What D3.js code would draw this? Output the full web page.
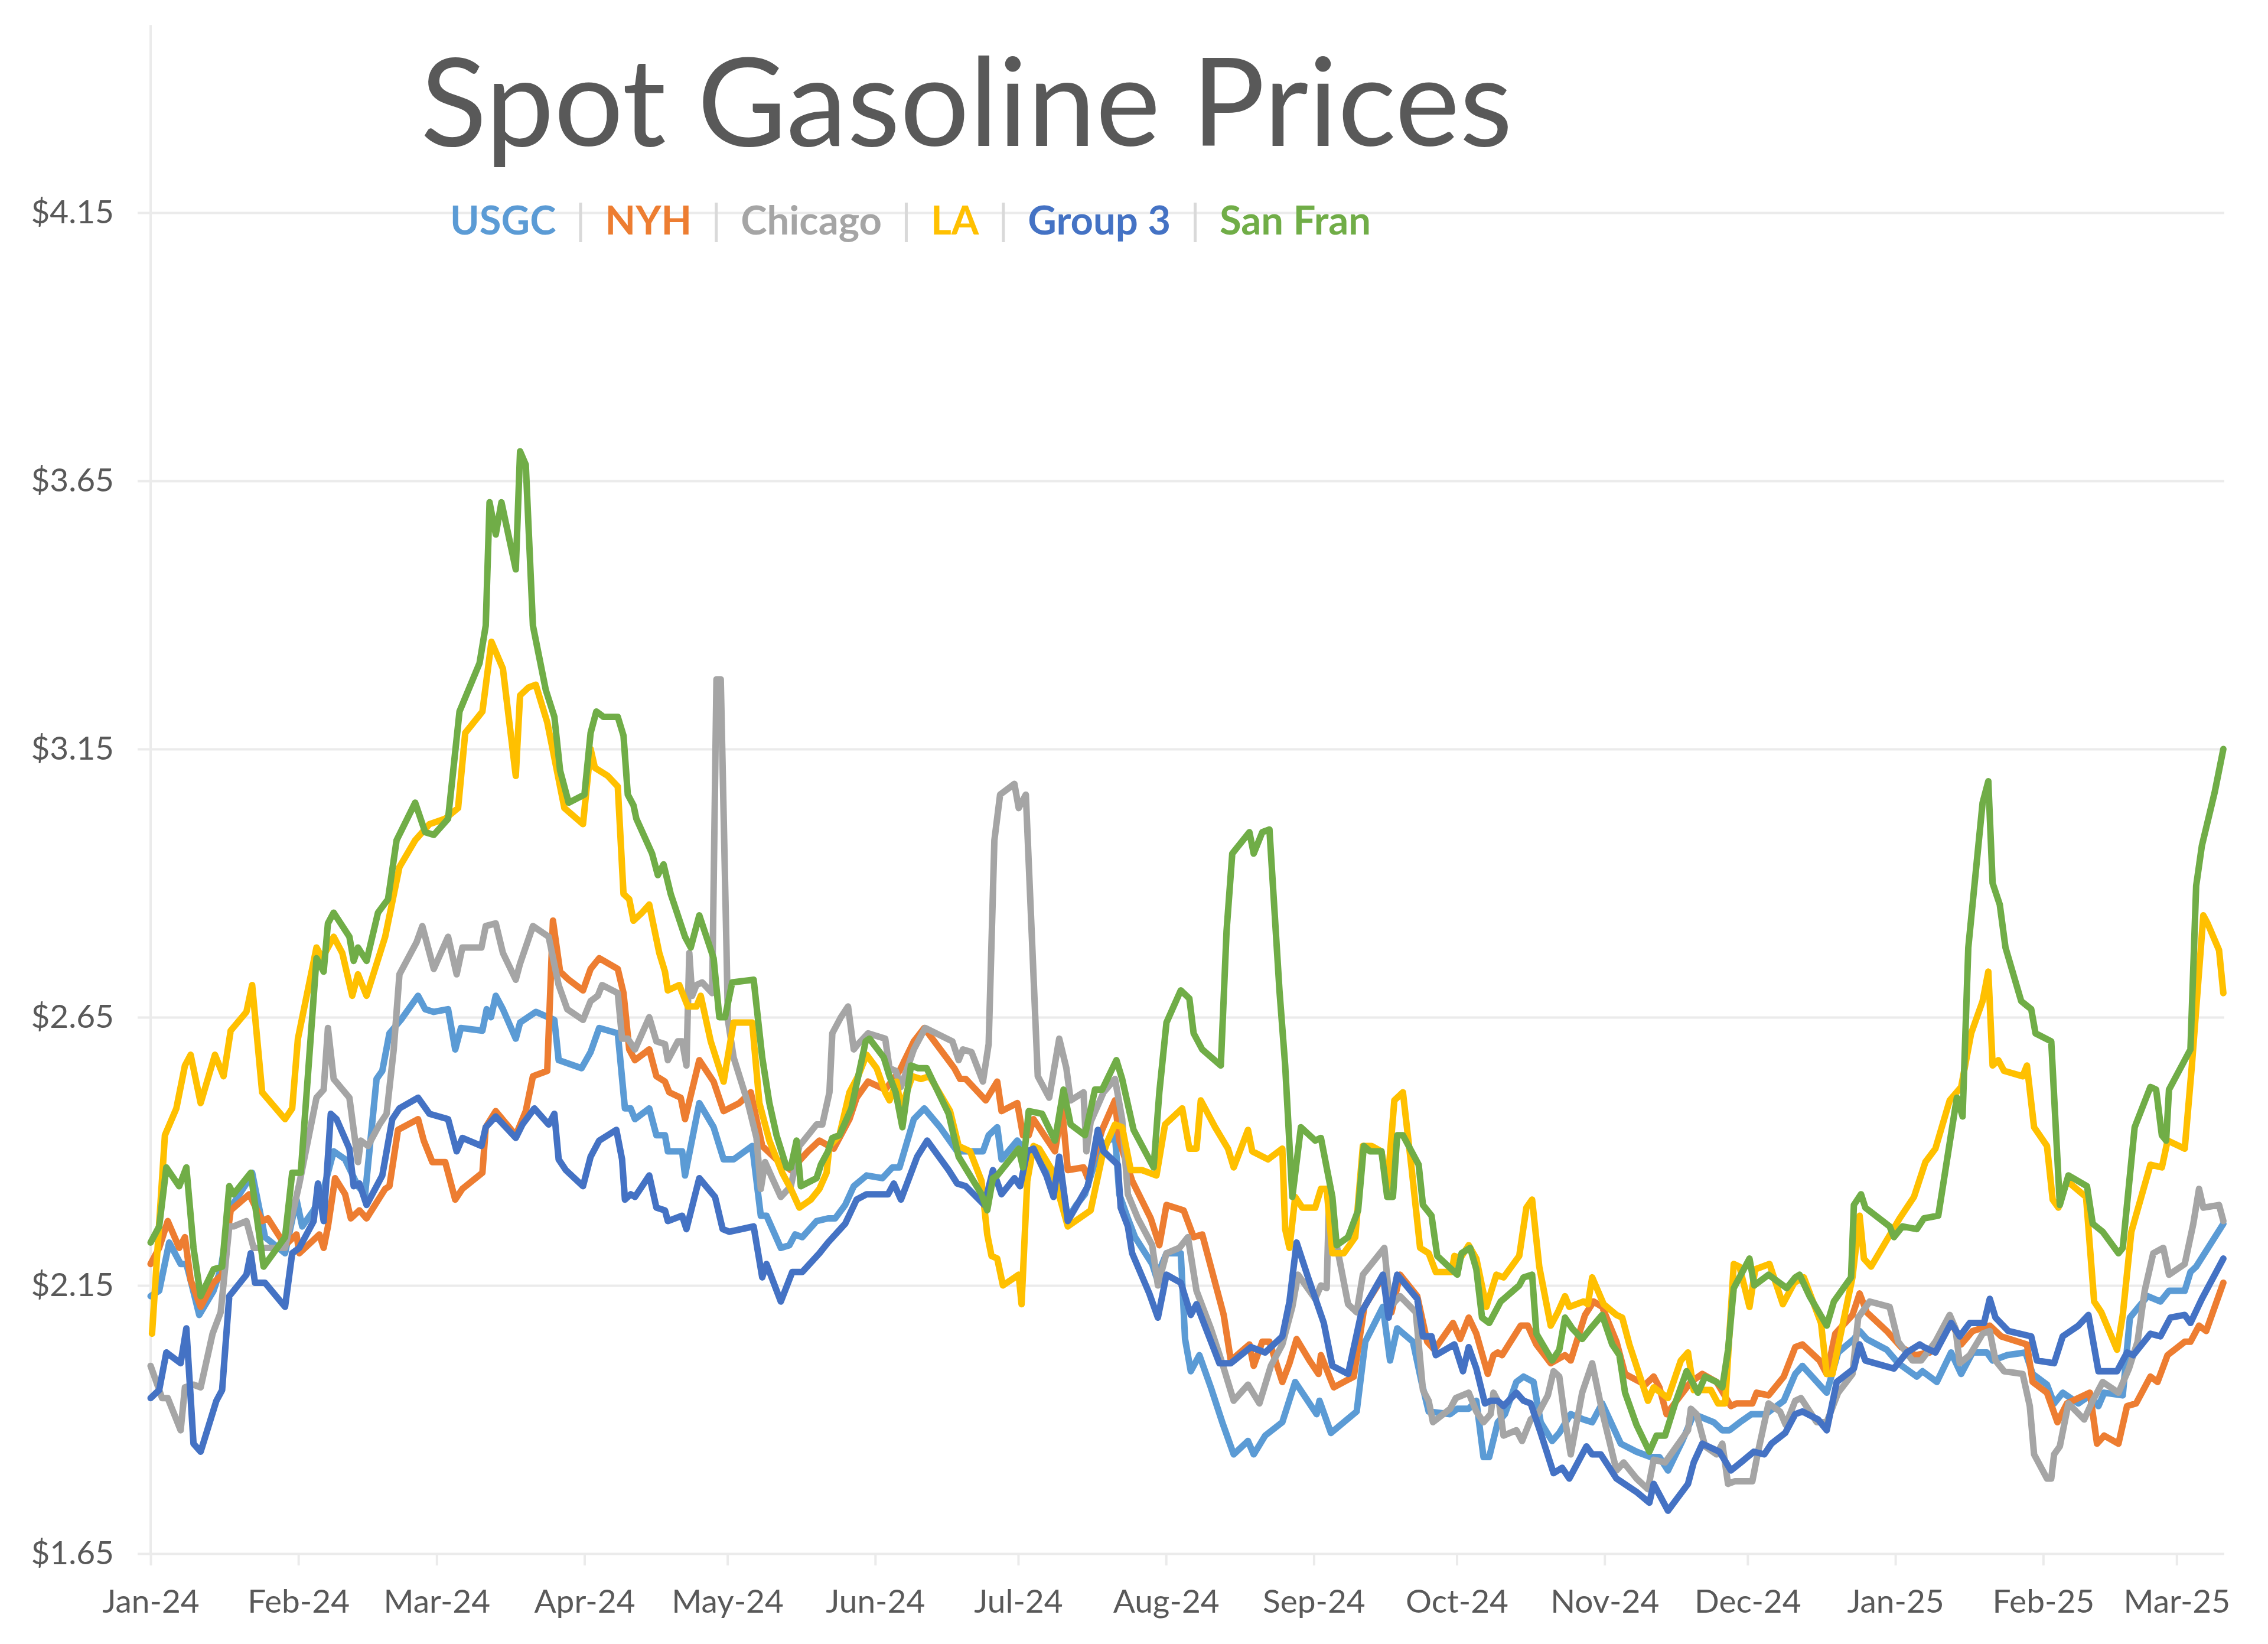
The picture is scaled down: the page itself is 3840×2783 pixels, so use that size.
<!DOCTYPE html>
<html>
<head>
<meta charset="utf-8">
<script src="https://cdn.jsdelivr.net/npm/d3@7"></script>
<style>
    body { margin: 0; background: #fff; }
    svg { display: block; }
    .tick text { font-family: Lato, "Open Sans", sans-serif; fill: #595959; }
</style>
</head>
<body>
<svg id="gfx"></svg>
<script>
// days counted from 1 Jan 2024, price in $/gal
const startDate = Date.UTC(2024, 0, 1);
const lastDay = 435;

const seriesNames = ["USGC", "NYH", "Chicago", "LA", "Group 3", "San Fran"];
const seriesColors = ["#5B9BD5", "#ED7D31", "#A5A5A5", "#FFC000", "#4472C4", "#70AD47"];

const yTickValues = [1.65, 2.15, 2.65, 3.15, 3.65, 4.15];
const xTickLabels = ["Jan-24", "Feb-24", "Mar-24", "Apr-24", "May-24", "Jun-24", "Jul-24", "Aug-24",
    "Sep-24", "Oct-24", "Nov-24", "Dec-24", "Jan-25", "Feb-25", "Mar-25"];

const usgcData = [[0,2.13],[1.8,2.14],[3.9,2.23],[6.3,2.19],[7.5,2.19],[8.1,2.17],[10.2,2.095],[13.2,2.14],[14.7,2.18],[16.8,2.295],[20.1,2.34],[21.3,2.36],[24,2.24],[28.2,2.21],[30.6,2.31],[31.8,2.26],[34.2,2.29],[36.3,2.33],[38.4,2.40],[40.8,2.385],[43.5,2.335],[45,2.32],[47.4,2.535],[48.6,2.55],[50.1,2.62],[52.5,2.645],[56.1,2.69],[57.6,2.665],[59.4,2.66],[62.4,2.665],[63.9,2.59],[65.1,2.63],[69.6,2.625],[70.5,2.665],[71.4,2.65],[72.4,2.69],[73.9,2.665],[76.6,2.61],[77.5,2.64],[80.8,2.66],[84.7,2.645],[85.6,2.57],[90.4,2.555],
    [92.3,2.585],[94.1,2.63],[98,2.62],[99.5,2.48],[100.7,2.48],[101.6,2.46],[104.6,2.48],[106.1,2.43],[107.9,2.43],[108.5,2.40],[111.5,2.40],[112.1,2.355],[115.1,2.49],[118.1,2.445],[120.2,2.385],[122.3,2.385],[126.2,2.41],[128,2.28],[129.2,2.28],[132.2,2.22],[134,2.225],[135.2,2.245],[136.7,2.24],[139.7,2.27],[142.1,2.275],[143.6,2.275],[145.7,2.30],[147.5,2.335],[150.2,2.355],[153.5,2.35],[155.6,2.37],[157.1,2.37],[160.1,2.46],[162.3,2.48],[165.6,2.445],[169.2,2.40],[174.6,2.40],[175.8,2.43],[177.6,2.445],[178.5,2.385],[181.8,2.42],[183.6,2.40],
    [185.2,2.40],[187.6,2.37],[189.4,2.33],[190.6,2.375],[192.4,2.275],[194.2,2.30],[196,2.32],[199,2.405],[202.3,2.43],[203.2,2.32],[205,2.275],[206.5,2.24],[210.1,2.19],[211,2.165],[213.1,2.21],[216.1,2.21],[217,2.05],[218.2,1.99],[220,2.02],[222.4,1.96],[224.8,1.895],[227.2,1.835],[230.2,1.86],[231.4,1.835],[233.8,1.87],[237.4,1.895],[240.1,1.97],[244.6,1.91],[245.2,1.935],[247.6,1.875],[253,1.915],[254.8,2.045],[258.5,2.11],[260,2.01],[261.5,2.07],[264.8,2.045],[266.6,1.97],[268.1,1.915],[272.6,1.91],[274.1,1.92],[276.5,1.92],
    [278.1,1.935],[279.6,1.83],[280.8,1.83],[282.6,1.895],[284.1,1.91],[286.5,1.97],[288,1.98],[290.1,1.97],[291.6,1.895],[294,1.86],[295.5,1.875],[297.9,1.91],[300.6,1.90],[302.4,1.895],[304.5,1.93],[308.4,1.855],[311.7,1.84],[314.7,1.83],[316.5,1.83],[318.3,1.805],[321.3,1.86],[323.7,1.91],[327.9,1.895],[329.7,1.88],[331.2,1.88],[333.4,1.895],[335.8,1.91],[338.8,1.91],[342.6,1.935],
    [345,1.985],[346.5,2.00],[351.6,1.95],[354,2.025],[357.3,2.05],[358.5,2.065],[360,2.05],[364.2,2.03],[366.6,2.005],[370.5,1.98],[371.7,1.99],[374.7,1.97],[377.7,2.025],[379.8,1.985],[382.2,2.025],[385.2,2.025],[386.4,2.01],[389.4,2.02],[393.3,2.025],[394.8,1.985],[397.8,1.965],[399.3,1.93],[401.1,1.95],[404.4,1.93],[406.8,1.945],[408.6,1.925],[409.8,1.95],[413.7,1.945],[415.2,2.09],[418.9,2.13],[421.6,2.12],[423.4,2.14],[426.7,2.14],[427.9,2.175],[429.1,2.185],[434.8,2.265]];

const nyhData = [[0,2.19],[1.8,2.22],[3.6,2.27],[6,2.22],[7.2,2.24],[8.4,2.16],[10.5,2.11],[13.2,2.155],[15,2.17],[16.8,2.29],[20.7,2.32],[23.4,2.27],[24.6,2.275],[28.2,2.225],[30.6,2.245],[31.2,2.21],[35.4,2.245],[36.3,2.22],[37.2,2.26],[38.7,2.35],[40.8,2.32],[42,2.275],[43.8,2.29],[45.3,2.275],[49.2,2.33],[50.1,2.335],[51.9,2.44],[56.1,2.46],[57.3,2.42],[59.1,2.38],[61.8,2.38],[63.9,2.31],[65.4,2.33],[69.6,2.36],[70.3,2.445],[72.4,2.475],[76.6,2.43],[78.7,2.475],[80.2,2.54],[83.2,2.55],[84.4,2.83],[85.9,2.735],[87.7,2.72],[90.7,2.70],
    [92.3,2.74],[94.1,2.76],[98,2.74],[99.2,2.695],[100.4,2.59],[101.6,2.57],[104.6,2.59],[106.1,2.54],[107.9,2.53],[108.8,2.51],[111.2,2.50],[112.1,2.46],[115.1,2.57],[118.1,2.53],[120.2,2.475],[123.5,2.49],[125.9,2.51],[128.3,2.41],[131.3,2.385],[134.3,2.365],[137.9,2.40],[140.3,2.42],[143.3,2.405],[146.6,2.46],[148.1,2.50],[150.5,2.53],[154.1,2.515],[157.1,2.55],[160.1,2.605],[162.3,2.63],[168.6,2.555],[169.8,2.535],[171,2.535],[175.2,2.495],[177.6,2.53],[178.5,2.475],[181.8,2.49],[183,2.43],[184.2,2.43],
    [185.2,2.46],[188.2,2.42],[189.7,2.40],[191.2,2.48],[192.4,2.365],[195.7,2.37],[196.6,2.35],[199.6,2.44],[202.3,2.495],[203.2,2.42],[205.9,2.345],[209.8,2.275],[211.6,2.225],[213.1,2.30],[216.7,2.29],[218.8,2.24],[220.6,2.245],[225.1,2.095],[226.6,2.01],[230.5,2.04],[231.4,2.00],[233.2,2.045],[234.7,2.045],[237.4,1.97],[238.9,2.005],[240.4,2.05],[243.1,2.01],[245,1.985],[245.5,2.02],[248.2,1.96],[252.4,1.98],[254.6,2.11],[258.8,2.17],[260.3,2.10],[262.1,2.17],[265.7,2.13],[267.8,2.045],[269.3,2.03],[273.2,2.08],[274.7,2.05],[276.5,2.09],
    [278.1,2.06],[280.5,1.985],[281.7,2.02],[282.6,2.025],[283.5,2.02],[287.4,2.075],[288.9,2.075],[290.7,2.04],[293.7,2.005],[296.7,2.02],[297.9,2.01],[300.9,2.095],[302.7,2.12],[304.5,2.11],[307.5,2.045],[309.3,1.985],[313.5,1.965],[315.3,1.98],[316.5,1.96],[318,1.91],[320.1,1.935],[323.1,1.97],[325.5,1.985],[328.5,1.97],[331.5,1.925],[332.7,1.93],[336,1.93],[336.9,1.95],[339.4,1.945],[342.6,1.98],
    [345,2.035],[346.5,2.04],[350.1,2.01],[351.6,1.985],[353.4,2.06],[357,2.095],[358.5,2.135],[360,2.10],[364.2,2.065],[367.2,2.035],[370.2,2.02],[373.2,2.025],[377.4,2.09],[379.8,2.04],[382.2,2.065],[385.8,2.075],[388.2,2.055],[393.6,2.04],[394.8,1.97],[397.8,1.95],[400,1.895],[402,1.93],[406.8,1.95],[408.3,1.855],[409.8,1.87],[412.8,1.855],[414.6,1.925],[416.5,1.93],[419.5,1.98],[421,1.97],[423.1,2.02],[426.7,2.045],[427.9,2.045],[429.7,2.075],[431.2,2.065],[434.8,2.155]];

const chicagoData = [[0,2.00],[2.4,1.94],[3.6,1.94],[6.3,1.88],[7.2,1.96],[9,1.965],[10.5,1.96],[13,2.06],[14.7,2.10],[16.5,2.26],[17.4,2.26],[20.1,2.27],[21.6,2.22],[24.6,2.22],[28.2,2.22],[31.2,2.34],[34.8,2.50],[36.3,2.515],[37.2,2.63],[38.4,2.535],[41.7,2.50],[43.5,2.38],[44.1,2.42],[45.6,2.41],[48,2.45],[49.5,2.47],[51,2.59],[52.2,2.73],[55.8,2.79],[57,2.82],[59.4,2.74],[62.4,2.80],[64.2,2.73],[65.4,2.78],[69.4,2.78],[70.3,2.82],[72.4,2.825],[73.9,2.77],[76.6,2.72],[77.5,2.75],[80.2,2.82],[83.5,2.80],[85.6,2.71],[87.4,2.665],[90.7,2.645],
    [92.3,2.68],[93.8,2.69],[94.7,2.71],[98,2.695],[98.9,2.61],[100.1,2.61],[101.6,2.59],[104.6,2.65],[106.1,2.605],[107.9,2.60],[108.5,2.57],[110.6,2.605],[111.5,2.605],[112.4,2.56],[113,2.77],[113.6,2.69],[114.5,2.71],[115.7,2.715],[117.8,2.695],[118.7,3.28],[119.6,3.28],[120.8,2.78],[121.1,2.645],[122.3,2.575],[125.3,2.49],[127.1,2.425],[128,2.33],[128.9,2.38],[130.4,2.35],[132.2,2.315],[134.3,2.335],[136.1,2.41],[139.7,2.45],[140.9,2.45],[142.4,2.51],[143,2.62],[144.8,2.65],[146.3,2.67],[147.5,2.59],[148.4,2.60],[150.5,2.62],[154.1,2.61],[155,2.555],[156.3,2.55],[157.4,2.52],[160.1,2.59],[162.5,2.63],[168.2,2.605],[169.5,2.57],[170.4,2.59],[172.2,2.585],[174.6,2.53],[175.8,2.60],[177,2.98],[178.2,3.065],[181.2,3.085],[182.1,3.04],[183.6,3.065],
    [186.1,2.54],[188.5,2.50],[190.6,2.61],[192.1,2.555],[193,2.495],[195.7,2.51],[196.3,2.40],[197.2,2.455],[199.9,2.51],[202.3,2.535],[203.8,2.46],[205,2.32],[207.1,2.275],[210.1,2.225],[211.3,2.15],[213.1,2.21],[215.8,2.22],[217.6,2.24],[219.4,2.14],[222.4,2.07],[224.8,2.005],[227.2,1.935],[230.2,1.965],[232.6,1.93],[235,2.00],[237.4,2.04],[239.5,2.11],[240.7,2.17],[244.3,2.125],[245.5,2.15],[246.7,2.145],[247.2,2.31],[248.8,2.225],[251.2,2.115],[253,2.10],[254.3,2.17],[258.8,2.22],[260,2.11],[262.1,2.13],[265.4,2.10],[266.9,1.955],[268.1,1.935],[269,1.895],[272.6,1.92],[273.8,1.94],[276.5,1.95],
    [278.1,1.915],[279.6,1.895],[281.1,1.91],[281.7,1.95],[282.9,1.93],[283.8,1.87],[286.5,1.88],[287.7,1.86],[289.5,1.90],[291,1.91],[293.1,1.945],[294.3,1.99],[295.5,1.98],[296.7,1.90],[297.9,1.835],[300.3,1.95],[302.4,2.005],[304.5,1.915],[307.5,1.805],[309,1.82],[311.7,1.79],[314.1,1.77],[315.3,1.825],[317.7,1.82],[320.1,1.85],[322.5,1.88],[323.1,1.92],[324.3,1.91],[326.1,1.85],[328.5,1.835],[329.7,1.855],[330.9,1.78],[332.4,1.785],[336,1.785],[337.2,1.84],[339.4,1.93],[341.8,1.915],[343,1.89],
    [345,1.935],[346.2,1.94],[349.5,1.895],[351.6,1.895],[354,1.95],[357,1.985],[358.2,2.09],[360.6,2.12],[364.8,2.11],[366.6,2.045],[369.6,2.01],[371.4,2.01],[374.4,2.045],[377.4,2.095],[378.6,2.07],[379.5,2.005],[381.6,2.02],[384.3,2.06],[385.8,2.065],[387,2.01],[388.8,1.99],[392.7,1.985],[394.2,1.925],[395.1,1.835],[397.8,1.79],[398.7,1.79],[399.3,1.835],[400.5,1.85],[402.3,1.93],[405.6,1.90],[407.4,1.935],[409.5,1.97],[412.8,1.95],[415,1.995],[416.8,2.045],[418.3,2.14],[420.1,2.21],[422.2,2.22],[423.4,2.17],[426.7,2.19],[428.5,2.265],[429.7,2.33],[430.6,2.295],[433.9,2.30],[434.8,2.27]];

const laData = [[0.3,2.06],[3,2.43],[5.4,2.48],[7.2,2.56],[8.4,2.58],[10.5,2.49],[13.5,2.58],[15.3,2.54],[16.8,2.625],[20.1,2.66],[21.3,2.71],[23.4,2.51],[28.2,2.46],[29.7,2.48],[30.9,2.61],[34.8,2.78],[36,2.76],[38.4,2.80],[40.2,2.77],[42.3,2.69],[43.5,2.73],[45.3,2.69],[49.2,2.80],[52.2,2.93],[55.5,2.98],[58.5,3.01],[61.8,3.02],[64.5,3.04],[66,3.18],[69.6,3.22],[71.5,3.35],[73.9,3.30],[76.6,3.10],[77.5,3.25],[79.3,3.265],[80.8,3.27],[83.2,3.20],[86.8,3.04],[90.7,3.01],
    [92.3,3.15],[93.2,3.115],[95.9,3.10],[98,3.08],[99.2,2.88],[100.4,2.87],[101.3,2.83],[103.1,2.845],[104.6,2.86],[106.7,2.77],[107.9,2.735],[108.5,2.70],[110.9,2.71],[112.7,2.67],[114.5,2.67],[115.4,2.69],[117.5,2.605],[120.2,2.53],[122.3,2.64],[126.2,2.64],[127.7,2.49],[129.8,2.42],[132.5,2.36],[134.3,2.33],[136.1,2.295],[138.5,2.31],[140.3,2.33],[141.8,2.36],[142.4,2.41],[144.5,2.43],[146.6,2.51],[148.4,2.54],[150.2,2.58],[152.3,2.555],[154.1,2.51],[155,2.495],[156.5,2.53],[157.4,2.48],[159.8,2.54],[161.6,2.535],[163.4,2.54],[167.7,2.475],[169.5,2.41],[171.9,2.40],[174.3,2.345],[175.5,2.245],[176.4,2.205],[177.6,2.20],[178.8,2.15],[182.1,2.17],[182.7,2.115],[183.9,2.345],
    [185.2,2.41],[186.4,2.405],[189.1,2.365],[192.4,2.26],[194.8,2.275],[197.2,2.29],[199.6,2.39],[200.8,2.42],[202.3,2.45],[203.8,2.445],[205.6,2.365],[208,2.365],[211,2.355],[212.8,2.45],[216.4,2.48],[217.9,2.405],[219.4,2.405],[220.3,2.495],[223.3,2.445],[226,2.405],[227.2,2.37],[230.2,2.44],[231.1,2.40],[234.4,2.385],[237.4,2.405],[238,2.255],[238.9,2.22],[240.1,2.315],[241.6,2.295],[244.3,2.295],[245.5,2.33],[246.7,2.33],[247.9,2.21],[250.3,2.21],[252.7,2.24],[254.3,2.41],[256.1,2.41],[258.2,2.40],[259.4,2.33],[260.9,2.495],[262.7,2.51],[264.5,2.37],[266.3,2.22],[268.1,2.21],[269.6,2.175],[272.9,2.175],[273.5,2.205],[274.7,2.20],[276.5,2.225],
    [278.1,2.20],[280.2,2.11],[282.3,2.17],[283.8,2.165],[287.1,2.205],[288.6,2.295],[289.8,2.31],[291.3,2.185],[293.7,2.075],[295.2,2.10],[296.7,2.13],[297.6,2.11],[300.6,2.12],[301.5,2.115],[302.4,2.165],[304.8,2.115],[307.5,2.095],[308.7,2.09],[310.2,2.04],[314.1,1.935],[315.3,1.96],[318.3,1.94],[321,2.01],[322.5,2.025],[323.7,1.955],[327.3,1.955],[328.8,1.93],[330.3,1.93],[332.1,2.19],[333.3,2.185],[335.4,2.11],[336.6,2.18],[339.6,2.19],[342.4,2.115],[344.8,2.155],
    [346.8,2.165],[350.4,2.08],[351.6,1.985],[352.8,1.985],[357,2.165],[358.5,2.28],[359.4,2.20],[360.9,2.185],[366.9,2.275],[369.9,2.315],[372.3,2.38],[374.4,2.405],[377.4,2.495],[379.8,2.52],[381.9,2.62],[384.3,2.68],[385.5,2.735],[386.4,2.56],[387.6,2.57],[388.8,2.55],[392.7,2.54],[393.6,2.56],[395.1,2.445],[397.8,2.41],[399,2.31],[400.2,2.295],[402,2.345],[406,2.315],[407.7,2.12],[409.2,2.10],[412.5,2.03],[413.7,2.095],[415.5,2.25],[419.5,2.375],[421.9,2.37],[423.1,2.42],[426.7,2.405],[428.2,2.56],[430.6,2.84],[431.5,2.825],[433.9,2.775],[434.8,2.695]];

const group3Data = [[0,1.94],[1.8,1.955],[3.3,2.025],[6.3,2.005],[7.5,2.07],[9,1.855],[10.5,1.84],[13.8,1.935],[15,1.955],[16.5,2.13],[17.4,2.14],[20.1,2.17],[21,2.21],[21.9,2.155],[24,2.155],[28.2,2.11],[29.7,2.21],[31.2,2.22],[34.2,2.27],[35.1,2.34],[36.3,2.27],[37.8,2.47],[39,2.46],[41.7,2.405],[42.6,2.335],[43.8,2.34],[45.3,2.30],[48.6,2.355],[50.7,2.46],[52.2,2.48],[56.1,2.50],[58.5,2.47],[62.4,2.46],[64.2,2.40],[65.4,2.425],[69.4,2.41],[70.3,2.445],[72.4,2.465],[76.6,2.425],[78,2.45],[80.5,2.48],[83.5,2.45],[84.7,2.47],[85.6,2.385],[87.1,2.365],[90.7,2.335],
    [92.3,2.39],[94.1,2.42],[97.7,2.44],[98.9,2.385],[99.5,2.31],[100.7,2.32],[101.6,2.315],[104.6,2.355],[106.1,2.295],[107.9,2.29],[108.5,2.27],[111.5,2.28],[112.4,2.255],[115.1,2.35],[118.4,2.315],[120,2.255],[121.4,2.25],[126.5,2.26],[128.3,2.165],[129.2,2.19],[132.2,2.12],[134.6,2.175],[136.7,2.175],[140.3,2.21],[142.1,2.23],[145.7,2.265],[148.1,2.31],[150.2,2.32],[154.7,2.32],[155.9,2.34],[157.4,2.31],[160.8,2.39],[162.9,2.42],[167.4,2.365],[169.2,2.34],[171,2.335],[174.9,2.30],[176.7,2.365],[178.5,2.32],[181.2,2.35],[182.4,2.335],[183.9,2.40],
    [185.2,2.405],[187.9,2.355],[189.4,2.315],[190.6,2.39],[192.4,2.27],[196.6,2.335],[198.7,2.44],[199.9,2.40],[202.9,2.375],[203.5,2.295],[205,2.26],[205.9,2.21],[209.5,2.135],[211.3,2.09],[213.1,2.17],[216.1,2.155],[218.2,2.095],[219.4,2.115],[224.2,2.005],[226.6,2.005],[230.8,2.035],[233.8,2.025],[237.4,2.055],[238.9,2.12],[240.4,2.23],[242.8,2.165],[246.1,2.08],[247.9,2.00],[251.2,1.985],[254,2.10],[258.5,2.17],[259.7,2.09],[261.5,2.17],[265.7,2.125],[266.9,2.055],[268.7,2.055],[269.6,2.02],[273.5,2.04],[275.3,1.99],[276.5,2.035],
    [278.1,1.995],[279.9,1.93],[281.1,1.935],[282.6,1.935],[283.8,1.925],[286.5,1.95],[288,1.935],[289.5,1.93],[291.6,1.875],[294.3,1.80],[296.1,1.81],[297.6,1.79],[301.2,1.85],[302.4,1.835],[304.2,1.835],[307.5,1.79],[311.7,1.765],[314.4,1.745],[315.3,1.78],[318.3,1.73],[322.5,1.78],[323.7,1.82],[325.5,1.855],[329.1,1.84],[331.5,1.805],[333.6,1.82],[336.3,1.84],[338.5,1.835],[340,1.855],[342.9,1.875],
    [345,1.91],[346.5,1.915],[349.8,1.90],[351.6,1.88],[353.7,1.97],[357.3,1.995],[358.5,2.04],[359.7,2.01],[365.7,1.995],[368.4,2.025],[371.1,2.04],[372,2.035],[374.4,2.025],[377.7,2.08],[379.5,2.055],[381.6,2.08],[384.6,2.08],[385.8,2.125],[387,2.09],[389.7,2.065],[394.5,2.055],[395.7,2.01],[399.3,2.005],[401.1,2.055],[404.4,2.075],[406.5,2.095],[408.6,1.99],[412.5,1.99],[414.6,2.025],[415.9,2.02],[419.5,2.06],[421.6,2.055],[423.7,2.09],[426.7,2.095],[427.9,2.08],[430.3,2.125],[434.8,2.20]];

const sanFranData = [[0,2.23],[1.8,2.26],[3.3,2.37],[6,2.335],[7.5,2.37],[9,2.22],[10.5,2.13],[13.2,2.18],[15,2.185],[16.5,2.335],[17.4,2.32],[21,2.36],[23.7,2.185],[28.2,2.24],[29.7,2.36],[31.5,2.36],[34.8,2.76],[36.3,2.735],[37.2,2.825],[38.4,2.845],[41.7,2.80],[42.6,2.755],[43.5,2.78],[45.3,2.755],[47.7,2.845],[49.8,2.87],[51.6,2.98],[55.5,3.05],[57.6,2.995],[59.4,2.99],[62.4,3.02],[64.8,3.22],[69,3.31],[70.3,3.38],[71.1,3.61],[72.4,3.55],[73.6,3.61],[76.6,3.485],[77.5,3.705],[78.7,3.68],[80.2,3.38],[82.9,3.26],[84.7,3.21],[85.9,3.11],[87.7,3.05],[91,3.065],
    [92.3,3.18],[93.5,3.22],[95,3.21],[98,3.21],[99.2,3.175],[100.1,3.065],[101.3,3.045],[101.9,3.02],[105.2,2.955],[106.4,2.915],[107.6,2.935],[109.1,2.88],[112.1,2.80],[113.3,2.78],[115.1,2.84],[118.1,2.76],[119.3,2.65],[120.5,2.65],[122,2.715],[126.5,2.72],[128.3,2.575],[129.8,2.49],[131.3,2.43],[133.4,2.37],[134.3,2.37],[135.5,2.42],[136.4,2.335],[139.7,2.35],[140.6,2.375],[142.1,2.40],[143,2.425],[144.5,2.43],[147,2.48],[150,2.605],[150.8,2.61],[153.8,2.575],[155,2.54],[156.3,2.51],[157.7,2.445],[159.5,2.56],[161,2.555],[162.8,2.555],[167.4,2.47],[169.5,2.39],[171.9,2.355],[174.3,2.32],[175.5,2.29],[176.7,2.35],[177.6,2.355],[182.1,2.405],[183,2.37],[184.2,2.475],
    [187,2.47],[189.7,2.42],[191.5,2.515],[193,2.45],[196,2.43],[198.1,2.515],[199.6,2.515],[202.6,2.57],[203.8,2.535],[206.2,2.44],[210.4,2.37],[211.6,2.51],[213.1,2.64],[216.1,2.70],[217.9,2.685],[218.8,2.62],[220.6,2.59],[224.5,2.56],[225.7,2.81],[226.9,2.955],[230.5,2.995],[231.4,2.955],[233.2,2.995],[234.7,3.00],[236.8,2.70],[238,2.56],[239.5,2.315],[241.3,2.445],[244.3,2.42],[245.5,2.425],[247.9,2.315],[248.8,2.225],[251.2,2.24],[253.3,2.29],[254.5,2.41],[255.8,2.40],[258.2,2.40],[259.4,2.315],[260.6,2.315],[261.5,2.43],[262.7,2.43],[266,2.375],[266.9,2.30],[268.7,2.28],[269.9,2.205],[274.1,2.17],[275,2.21],[276.8,2.22],
    [278.1,2.18],[279.3,2.09],[280.8,2.08],[283.2,2.12],[287.1,2.15],[288,2.165],[289.8,2.17],[290.7,2.06],[294,2.01],[295.5,2.03],[296.7,2.09],[298.2,2.07],[300.3,2.05],[302.1,2.07],[304.5,2.095],[306.6,2.04],[308.1,2.02],[309.3,1.95],[311.7,1.89],[314.4,1.84],[315.9,1.87],[317.7,1.87],[319.8,1.93],[322.2,1.99],[324.6,1.95],[326.1,1.98],[328.5,1.97],[329.7,1.96],[330.9,2.03],[332.1,2.145],[335.4,2.20],[336.4,2.15],[339.4,2.17],[343.2,2.145],
    [345,2.165],[345.9,2.17],[348,2.13],[351.6,2.075],[353.1,2.12],[356.7,2.165],[357.3,2.30],[358.8,2.32],[359.7,2.295],[364.8,2.26],[365.7,2.24],[367.5,2.26],[370.5,2.255],[372,2.275],[375,2.28],[378,2.45],[378.9,2.50],[380.1,2.465],[381.3,2.78],[384.3,3.05],[385.5,3.09],[386.4,2.90],[387.9,2.86],[389.1,2.78],[392.4,2.68],[394.5,2.665],[395.4,2.62],[398.7,2.605],[400.5,2.30],[402.3,2.355],[406.2,2.335],[407.4,2.265],[409.5,2.25],[412.8,2.21],[413.7,2.22],[416.2,2.445],[419.5,2.52],[420.7,2.515],[421.9,2.43],[422.8,2.42],[423.4,2.515],[427.9,2.59],[429.1,2.895],[430.3,2.97],[433,3.07],[434.8,3.15]];

const seriesData = [usgcData, nyhData, chicagoData, laData, group3Data, sanFranData];

const gfx = {
    width: 3840,
    height: 2783,
    left: 255,
    right: 3766,
    top: 360,
    bottom: 2630,
    font: "Lato, 'Open Sans', sans-serif"
};

const toDate = d => new Date(startDate + d * 864e5);

const svg = d3.select("#gfx")
    .attr("width", gfx.width)
    .attr("height", gfx.height)
    .attr("viewBox", "0 0 " + gfx.width + " " + gfx.height);

svg.append("rect").attr("width", gfx.width).attr("height", gfx.height).attr("fill", "#fff");

const x = d3.scaleUtc()
    .domain([toDate(0), toDate(lastDay)])
    .range([gfx.left, gfx.right]);

const y = d3.scaleLinear()
    .domain([1.65, 4.15])
    .range([gfx.bottom, gfx.top]);

// horizontal gridlines + y labels
const yAxis = svg.append("g")
    .attr("transform", "translate(" + (gfx.left - 22) + ",0)")
    .call(d3.axisLeft(y)
        .tickValues(yTickValues)
        .tickSize(-(gfx.right - gfx.left + 22))
        .tickPadding(40)
        .tickFormat(d => "$" + d.toFixed(2)));
yAxis.select(".domain").remove();
yAxis.selectAll(".tick line").attr("stroke", "#ebebeb").attr("stroke-width", 4);
yAxis.selectAll(".tick text").attr("font-size", 55);

// vertical axis line reaching up to the top of the plot frame
svg.append("line")
    .attr("x1", gfx.left).attr("x2", gfx.left)
    .attr("y1", y(4.5)).attr("y2", gfx.bottom)
    .attr("stroke", "#ebebeb").attr("stroke-width", 4);

// month ticks along the bottom
const months = d3.utcMonth.range(toDate(0), toDate(lastDay));
const xAxis = svg.append("g")
    .attr("transform", "translate(0," + gfx.bottom + ")")
    .call(d3.axisBottom(x)
        .tickValues(months)
        .tickSize(20)
        .tickPadding(41)
        .tickFormat((d, i) => xTickLabels[i]));
xAxis.select(".domain").remove();
xAxis.selectAll(".tick line").attr("stroke", "#ebebeb").attr("stroke-width", 4);
xAxis.selectAll(".tick text").attr("font-size", 55);

// series lines
const line = d3.line()
    .x(d => x(toDate(d[0])))
    .y(d => y(d[1]));

svg.append("g")
    .selectAll("path")
    .data(seriesData)
    .enter()
    .append("path")
    .attr("d", line)
    .attr("fill", "none")
    .attr("stroke", (d, i) => seriesColors[i])
    .attr("stroke-width", 11)
    .attr("stroke-linejoin", "round")
    .attr("stroke-linecap", "round");

// title
svg.append("text")
    .attr("x", 712)
    .attr("y", 247)
    .attr("font-family", gfx.font)
    .attr("font-size", 207)
    .attr("fill", "#595959")
    .text("Spot Gasoline Prices");

// legend: coloured names spread between x=762 and x=2321, thin grey bars between
const legendLeft = 762, legendRight = 2321, legendBase = 397;
const legend = svg.append("g").attr("class", "legend");

const words = legend.selectAll("text")
    .data(seriesNames)
    .enter()
    .append("text")
    .attr("y", legendBase)
    .attr("font-family", gfx.font)
    .attr("font-size", 67)
    .attr("font-weight", "bold")
    .attr("fill", (d, i) => seriesColors[i])
    .text(d => d);

const widths = [];
words.each(function() { widths.push(this.getComputedTextLength()); });
const gap = (legendRight - legendLeft - d3.sum(widths)) / (seriesNames.length - 1);

let cursor = legendLeft;
words.each(function(d, i) {
    d3.select(this).attr("x", cursor);
    cursor += widths[i];
    if (i < seriesNames.length - 1) {
        legend.append("line")
            .attr("x1", cursor + gap / 2).attr("x2", cursor + gap / 2)
            .attr("y1", legendBase - 54).attr("y2", legendBase + 13)
            .attr("stroke", "#d9d9d9")
            .attr("stroke-width", 5);
        cursor += gap;
    }
});
</script>
</body>
</html>
